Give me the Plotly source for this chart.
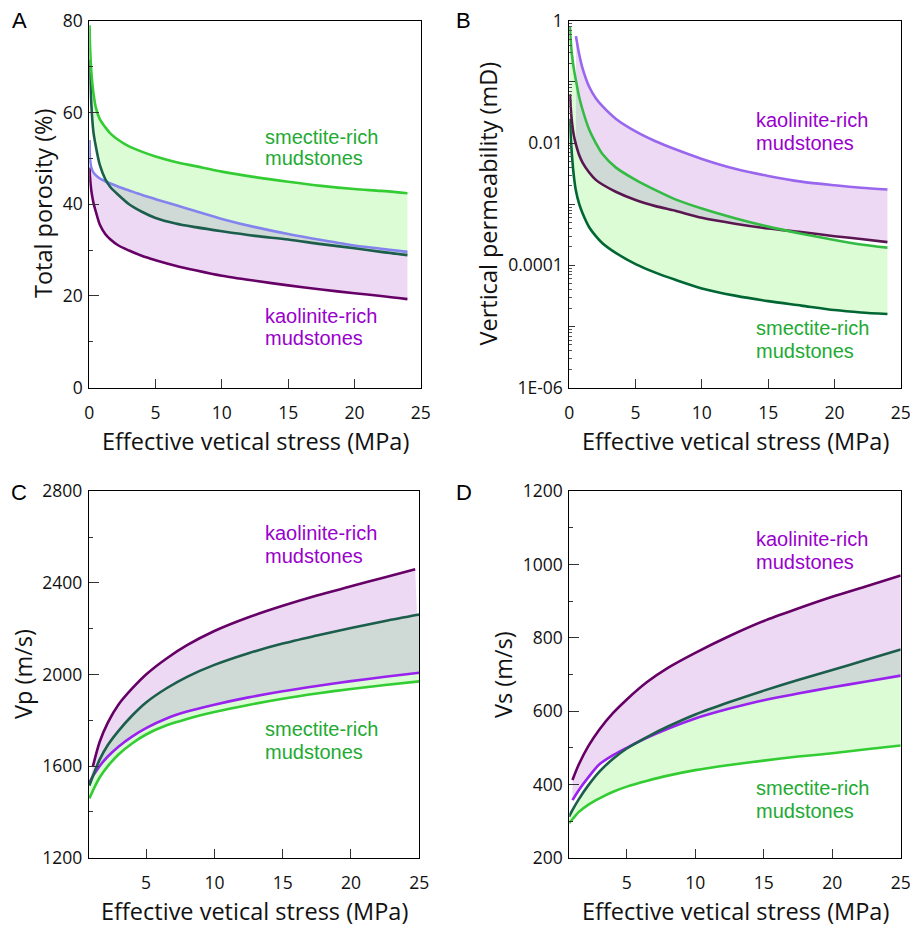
import numpy as np
import plotly.graph_objects as go

W, H = 910, 927

# ---------------- Panel A: total porosity (%) ----------------
xA = [0.02, 0.05, 0.15, 0.3, 0.5, 0.8, 1.2, 1.6, 2.2, 3.0, 4.0, 5.0, 6.5, 8.0, 10, 12.5, 15, 17.5, 20, 22, 24]
poro_smec_upper = [79, 75, 69, 64.5, 61, 58.5, 56.8, 55.4, 54.0, 52.6, 51.4, 50.4, 49.2, 48.3, 47.1, 45.9, 44.9, 44.0, 43.3, 42.9, 42.4]
poro_smec_lower = [71.5, 70, 62, 56, 52.5, 48.5, 45.5, 43.7, 42.0, 40.0, 38.3, 37.0, 35.8, 35.0, 34.1, 33.1, 32.3, 31.3, 30.4, 29.6, 28.9]
poro_kaol_upper = [54, 50, 48, 47, 46.3, 45.6, 45.0, 44.5, 43.8, 43.0, 42.0, 41.1, 39.8, 38.5, 36.8, 35.0, 33.5, 32.2, 31.0, 30.3, 29.6]
poro_kaol_lower = [48, 46, 43, 40.5, 38.3, 35.5, 33.5, 32.3, 31.0, 29.9, 28.7, 27.8, 26.6, 25.6, 24.4, 23.3, 22.3, 21.4, 20.6, 20.0, 19.3]

# ---------------- Panel B: vertical permeability (mD) ----------------
xB = [0.05, 0.1, 0.2, 0.35, 0.5, 0.75, 1.0, 1.5, 2.0, 2.5, 3.5, 5, 6.5, 8, 10, 12.5, 15, 17.5, 20, 22, 24]
perm_smec_upper = [7.9e-1, 5.0e-1, 2.8e-1, 1.6e-1, 1.05e-1, 5.6e-2, 3.5e-2, 1.66e-2, 1.0e-2, 6.6e-3, 4.0e-3,
                   2.5e-3, 1.7e-3, 1.2e-3, 8.5e-4, 5.9e-4, 4.3e-4, 3.3e-4, 2.6e-4, 2.2e-4, 1.95e-4]
perm_smec_lower = [2.5e-2, 1.4e-2, 6.3e-3, 2.8e-3, 1.66e-3, 1.0e-3, 7.1e-4, 4.2e-4, 3.0e-4, 2.3e-4, 1.6e-4,
                   1.05e-4, 7.6e-5, 5.8e-5, 4.2e-5, 3.2e-5, 2.6e-5, 2.2e-5, 1.86e-5, 1.7e-5, 1.6e-5]
perm_kaol_lower = [6.3e-2, 4.0e-2, 2.2e-2, 1.3e-2, 9.5e-3, 6.3e-3, 4.8e-3, 3.3e-3, 2.5e-3, 2.1e-3, 1.6e-3,
                   1.17e-3, 9.3e-4, 7.8e-4, 6.0e-4, 4.8e-4, 4.0e-4, 3.5e-4, 3.0e-4, 2.7e-4, 2.4e-4]
xB_kaol = [0.5, 0.75, 1.0, 1.5, 2.0, 2.5, 3.5, 5, 6.5, 8, 10, 12.5, 15, 17.5, 20, 22, 24]
perm_kaol_upper = [5.6e-1, 2.8e-1, 1.66e-1, 8.3e-2, 5.4e-2, 4.0e-2, 2.5e-2, 1.55e-2, 1.07e-2, 7.9e-3,
                   5.5e-3, 3.8e-3, 2.9e-3, 2.34e-3, 2.04e-3, 1.86e-3, 1.74e-3]

# ---------------- Panel C: Vp (m/s) ----------------
xC = [0.85, 1.1, 1.6, 2.2, 3.0, 4.0, 5.0, 6.5, 8.0, 10, 12.5, 15, 17.5, 20, 22.5, 25]
vp_smec_upper = [1515, 1556, 1628, 1692, 1755, 1822, 1878, 1940, 1990, 2042, 2093, 2135, 2170, 2203, 2234, 2262]
vp_smec_lower = [1459, 1492, 1550, 1600, 1652, 1700, 1738, 1778, 1806, 1836, 1867, 1894, 1917, 1937, 1954, 1970]
vp_kaol_lower = [1528, 1555, 1600, 1642, 1686, 1730, 1766, 1808, 1838, 1868, 1900, 1927, 1950, 1971, 1990, 2008]
xC_kaol_up = [1.1, 1.6, 2.2, 3.0, 4.0, 5.0, 6.5, 8.0, 10, 12.5, 15, 17.5, 20, 22.5, 24.7]
vp_kaol_upper = [1597, 1705, 1790, 1870, 1940, 2000, 2070, 2128, 2190, 2250, 2300, 2345, 2385, 2425, 2460]

# ---------------- Panel D: Vs (m/s) ----------------
xD = [0.78, 1.03, 1.5, 2.2, 3, 4, 5, 6.5, 8, 10, 12.5, 15, 17.5, 20, 22.5, 25]
vs_smec_upper = [312, 330, 360, 398, 435, 470, 498, 530, 558, 591, 625, 656, 685, 712, 740, 768]
vs_smec_lower = [294, 305, 325, 345, 362, 380, 394, 410, 424, 439, 453, 465, 476, 485, 496, 506]
xD_kaol = [1.03, 1.5, 2.2, 3, 4, 5, 6.5, 8, 10, 12.5, 15, 17.5, 20, 22.5, 25]
vs_kaol_upper = [412, 455, 505, 550, 595, 632, 680, 718, 759, 805, 846, 880, 912, 941, 970]
vs_kaol_lower = [357, 385, 420, 455, 480, 500, 528, 552, 580, 607, 630, 648, 665, 681, 697]

# ---------------- styles ----------------
FILL_GREEN = "#dcfcd6"
FILL_PURPLE = "#eed9f4"
FILL_GREY = "#cfd9d6"
C_GREEN = "#33cc33"
C_TEAL = "#1b5e4b"
C_DKPURPLE = "#660066"
C_PURPLE = "#9922ee"
C_LAV_A = "#8484ee"
C_LAV_B = "#9966ee"
C_GREEN_B = "#33bb44"
C_DKGREEN_B = "#006633"
C_DKPURPLE_B = "#5a1650"
TXT_GREEN = "#22aa33"
TXT_PURPLE = "#9900cc"
LW = 2.6

fig = go.Figure()


def line(x, y, color, ax):
    xa, ya = ax
    fig.add_trace(go.Scatter(x=x, y=y, mode="lines",
                             line=dict(color=color, width=LW, shape="spline", smoothing=0.8),
                             xaxis=xa, yaxis=ya, showlegend=False, hoverinfo="skip"))


def band(xl, lower, xu, upper, color, ax):
    xa, ya = ax
    fig.add_trace(go.Scatter(x=xl, y=lower, mode="lines",
                             line=dict(width=0, shape="spline", smoothing=0.8),
                             xaxis=xa, yaxis=ya, showlegend=False, hoverinfo="skip"))
    fig.add_trace(go.Scatter(x=xu, y=upper, mode="lines", fill="tonexty", fillcolor=color,
                             line=dict(width=0, shape="spline", smoothing=0.8),
                             xaxis=xa, yaxis=ya, showlegend=False, hoverinfo="skip"))


def overlap(x, up1, up2, lo1, lo2, ax):
    top = np.minimum(np.array(up1, float), np.array(up2, float))
    bot = np.maximum(np.array(lo1, float), np.array(lo2, float))
    top = np.maximum(top, bot)
    band(x, bot, x, top, FILL_GREY, ax)


axA, axB, axC, axD = ("x", "y"), ("x2", "y2"), ("x3", "y3"), ("x4", "y4")

# Panel A
band(xA, poro_kaol_lower, xA, poro_kaol_upper, FILL_PURPLE, axA)
band(xA, poro_smec_lower, xA, poro_smec_upper, FILL_GREEN, axA)
overlap(xA, poro_kaol_upper, poro_smec_upper, poro_kaol_lower, poro_smec_lower, axA)
line(xA, poro_kaol_lower, C_DKPURPLE, axA)
line(xA, poro_kaol_upper, C_LAV_A, axA)
line(xA, poro_smec_lower, C_TEAL, axA)
line(xA, poro_smec_upper, C_GREEN, axA)

# Panel B
nB = len(xB) - len(xB_kaol)
band(xB_kaol, perm_kaol_lower[nB:], xB_kaol, perm_kaol_upper, FILL_PURPLE, axB)
band(xB, perm_smec_lower, xB, perm_smec_upper, FILL_GREEN, axB)
overlap(xB_kaol, perm_kaol_upper, perm_smec_upper[nB:], perm_kaol_lower[nB:], perm_smec_lower[nB:], axB)
line(xB, perm_smec_lower, C_DKGREEN_B, axB)
line(xB, perm_kaol_lower, C_DKPURPLE_B, axB)
line(xB, perm_smec_upper, C_GREEN_B, axB)
line(xB_kaol, perm_kaol_upper, C_LAV_B, axB)

# Panel C
band(xC, vp_kaol_lower, xC_kaol_up, vp_kaol_upper, FILL_PURPLE, axC)
band(xC, vp_smec_lower, xC, vp_smec_upper, FILL_GREEN, axC)
overlap(xC, vp_smec_upper, vp_smec_upper, vp_kaol_lower, vp_smec_lower, axC)
line(xC, vp_smec_lower, C_GREEN, axC)
line(xC, vp_kaol_lower, C_PURPLE, axC)
line(xC, vp_smec_upper, C_TEAL, axC)
line(xC_kaol_up, vp_kaol_upper, C_DKPURPLE, axC)

# Panel D
band(xD_kaol, vs_kaol_lower, xD_kaol, vs_kaol_upper, FILL_PURPLE, axD)
band(xD, vs_smec_lower, xD, vs_smec_upper, FILL_GREEN, axD)
overlap(xD_kaol, vs_kaol_upper, vs_smec_upper[1:], vs_kaol_lower, vs_smec_lower[1:], axD)
line(xD, vs_smec_lower, C_GREEN, axD)
line(xD_kaol, vs_kaol_lower, C_PURPLE, axD)
line(xD, vs_smec_upper, C_TEAL, axD)
line(xD_kaol, vs_kaol_upper, C_DKPURPLE, axD)

# ---------------- axes ----------------
TICKFONT = dict(family="Open Sans", size=17.5, color="#111111")


def xstyle(domain, rng, tickvals, anchor):
    return dict(domain=domain, range=rng, tickvals=tickvals, anchor=anchor,
                showline=True, linecolor="black", linewidth=1, mirror=True,
                ticks="inside", ticklen=9, tickcolor="#333333", tickwidth=1,
                tickfont=TICKFONT, ticklabelstandoff=9, automargin=False,
                ticklabeloverflow="allow",
                showgrid=False, zeroline=False)


def ystyle(domain, rng, anchor, **kw):
    d = dict(domain=domain, range=rng, anchor=anchor,
             showline=True, linecolor="black", linewidth=1, mirror=True,
             ticks="inside", ticklen=10, tickcolor="#333333", tickwidth=1,
             tickfont=TICKFONT, ticklabelstandoff=2, automargin=False,
             ticklabeloverflow="allow",
             showgrid=False, zeroline=False)
    d.update(kw)
    return d


def dx(a, b):
    return [a / W, b / W]


def dy(top, bottom):
    return [1 - bottom / H, 1 - top / H]


dxL = dx(89.3, 420.7)
dxR = dx(569.3, 900.7)
dxC = dx(88.7, 419.3)
dyT = dy(20.7, 387.7)
dyB = dy(491.3, 857.7)

xticks_full = [0, 5, 10, 15, 20, 25]
xticks_part = [5, 10, 15, 20, 25]

fig.update_layout(
    width=W, height=H,
    margin=dict(l=0, r=0, t=0, b=0, pad=0, autoexpand=False),
    paper_bgcolor="white", plot_bgcolor="white",
    showlegend=False,
    xaxis=xstyle(dxL, [0, 25], xticks_full, "y"),
    xaxis2=xstyle(dxR, [0, 25], xticks_full, "y2"),
    xaxis3=xstyle(dxC, [0.8, 25], xticks_part, "y3"),
    xaxis4=xstyle(dxR, [0.8, 25], xticks_part, "y4"),
    yaxis=ystyle(dyT, [0, 80], "x", tickvals=[0, 20, 40, 60, 80],
                 minor=dict(ticks="inside", ticklen=4, dtick=10, tick0=0, tickcolor="#333333")),
    yaxis2=ystyle(dyT, [-6, 0], "x2", type="log",
                  tickvals=[1e-6, 1e-5, 1e-4, 1e-3, 1e-2, 1e-1, 1],
                  ticktext=["1E-06", "", "0.0001", "", "0.01", "", "1"], ticklen=6,
                  minor=dict(ticks="inside", ticklen=3, dtick="D1", tickcolor="#555555")),
    yaxis3=ystyle(dyB, [1200, 2800], "x3", tickvals=[1200, 1600, 2000, 2400, 2800],
                  minor=dict(ticks="inside", ticklen=4, dtick=200, tick0=1200, tickcolor="#333333")),
    yaxis4=ystyle(dyB, [200, 1200], "x4", tickvals=[200, 400, 600, 800, 1000, 1200],
                  minor=dict(ticks="inside", ticklen=4, dtick=100, tick0=200, tickcolor="#333333")),
)


def P(px, py):
    return px / W, 1 - py / H


ann = []


def text(px, py, s, size, color, family, xanchor="center", angle=0):
    x, y = P(px, py)
    ann.append(dict(x=x, y=y, xref="paper", yref="paper", text=s, showarrow=False,
                    xanchor=xanchor, yanchor="middle", textangle=angle,
                    font=dict(size=size, color=color, family=family)))


TITLE_FONT = "Open Sans"
LABEL_FONT = "Liberation Sans, Arial"

# panel letters
for lbl, (px, py) in zip("ABCD", [(19, 21), (464, 21), (19, 492.5), (464, 492.5)]):
    text(px, py, lbl, 22, "black", LABEL_FONT)

# axis titles
xt = "Effective vetical stress (MPa)"
text(255, 441, xt, 23.5, "#111111", TITLE_FONT)
text(735, 441, xt, 23.5, "#111111", TITLE_FONT)
text(254, 911, xt, 23.5, "#111111", TITLE_FONT)
text(735, 911, xt, 23.5, "#111111", TITLE_FONT)
text(43, 204, "Total porosity (%)", 23.5, "#111111", TITLE_FONT, angle=-90)
text(487.5, 204, "Vertical permeability (mD)", 23.5, "#111111", TITLE_FONT, angle=-90)
text(22.5, 674.5, "Vp (m/s)", 23.5, "#111111", TITLE_FONT, angle=-90)
text(502.5, 674.5, "Vs (m/s)", 23.5, "#111111", TITLE_FONT, angle=-90)


# in-plot labels
def pair(px, py1, py2, first, color):
    text(px, py1, first, 20, color, LABEL_FONT, xanchor="left")
    text(px, py2, "mudstones", 20, color, LABEL_FONT, xanchor="left")


pair(263, 136.7, 158.3, "smectite-rich", TXT_GREEN)
pair(263, 316, 338.3, "kaolinite-rich", TXT_PURPLE)
pair(754.3, 120, 142.7, "kaolinite-rich", TXT_PURPLE)
pair(754.3, 328.3, 350.7, "smectite-rich", TXT_GREEN)
pair(263.3, 533.3, 556, "kaolinite-rich", TXT_PURPLE)
pair(263.3, 729.3, 751.7, "smectite-rich", TXT_GREEN)
pair(754.3, 539.3, 561.7, "kaolinite-rich", TXT_PURPLE)
pair(754.3, 788.3, 810.7, "smectite-rich", TXT_GREEN)

fig.update_layout(annotations=ann)

# place the 910 x 927 figure flush with the window corner (no default body margin / scrollbars)
fig.write_html("out.html",
               config={"displayModeBar": False, "staticPlot": True},
               post_script="document.body.style.margin='0px';document.body.style.overflow='hidden';")
